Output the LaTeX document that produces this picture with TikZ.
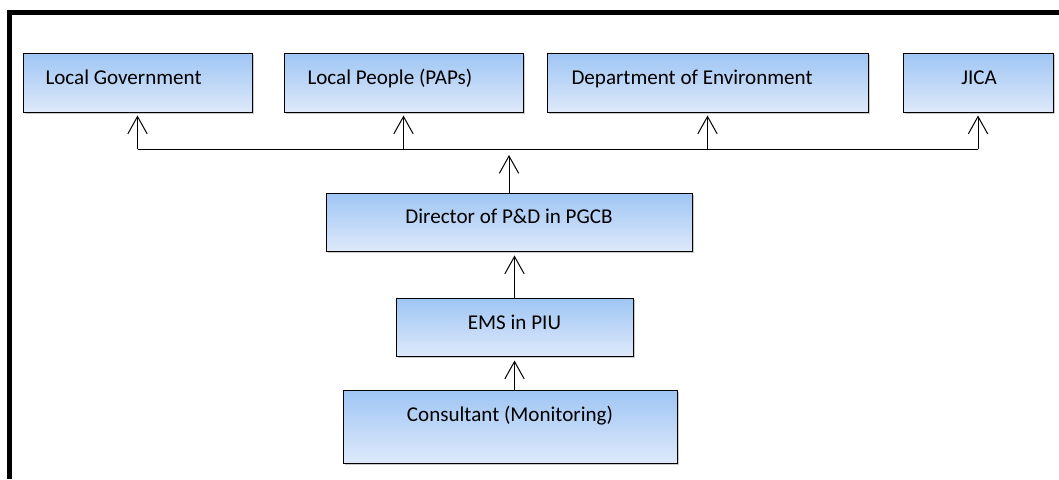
\documentclass[tikz,border=0pt]{standalone}
\usepackage{fontspec}
\setmainfont{Carlito}
\usetikzlibrary{arrows.meta,shadows}

\definecolor{boxtop}{RGB}{158,197,244}
\definecolor{boxbot}{RGB}{222,233,250}

\tikzset{every picture/.style={line width=0.75pt}}
\tikzset{
  orgbox/.style={draw=black, line width=0.75pt, top color=boxtop, bottom color=boxbot,
    inner sep=0pt, anchor=center,
    drop shadow={shadow xshift=1.2pt, shadow yshift=-1.2pt, fill=black!35, opacity=0.6}},
  orgtext/.style={inner sep=0.75pt, font=\fontsize{15.8}{19}\selectfont},
  upline/.style={-{Straight Barb[length=13pt,width=14.5pt,line width=0.75pt]}, line width=0.75pt}
}

\begin{document}
\begin{tikzpicture}[x=0.75pt,y=0.75pt,yscale=-1,xscale=1]
\useasboundingbox (0,0) rectangle (1059,479);

%Frame
\draw [line width=3.75pt] (9.5,479) -- (9.5,12.5) -- (1059,12.5) ;

%Top row boxes
\node [orgbox, minimum width=229*0.75pt, minimum height=59*0.75pt] (lg) at (137.5,82.5) {};
\node [orgbox, minimum width=239*0.75pt, minimum height=59*0.75pt] (lp) at (403.5,82.5) {};
\node [orgbox, minimum width=321*0.75pt, minimum height=59*0.75pt] (doe) at (707.5,82.5) {};
\node [orgbox, minimum width=150*0.75pt, minimum height=59*0.75pt] (jica) at (978,82.5) {};

%Lower boxes
\node [orgbox, minimum width=366*0.75pt, minimum height=58*0.75pt] (dir) at (509,222) {};
\node [orgbox, minimum width=237*0.75pt, minimum height=58*0.75pt] (ems) at (514.5,327) {};
\node [orgbox, minimum width=334*0.75pt, minimum height=73*0.75pt] (cons) at (510,426.5) {};

% Text Node
\node [orgtext, anchor=base west] (lgtxt) at (44,84.5) {Local Government};
% Text Node
\node [orgtext, anchor=base west] (lptxt) at (306,84.5) {Local People (PAPs)};
% Text Node
\node [orgtext, anchor=base west] (doetxt) at (570,84.5) {Department of Environment};
% Text Node
\node [orgtext, anchor=base] (jicatxt) at (979,84.5) {JICA};
% Text Node
\node [orgtext, anchor=base] (dirtxt) at (509,223.5) {Director of P\&D in PGCB};
% Text Node
\node [orgtext, anchor=base] (emstxt) at (514.5,329) {EMS in PIU};
% Text Node
\node [orgtext, anchor=base] (constxt) at (510,421.5) {Consultant (Monitoring)};

%Bus line
\coordinate (busL) at (137.5,149);
\coordinate (busR) at (978,149);
\draw (busL) -- (busR) ;

%Straight Lines
\draw [upline, shorten >=2.25pt] (busL) -- (lg.south) ;
\draw [upline, shorten >=2.25pt] (lp.south |- busL) -- (lp.south) ;
\draw [upline, shorten >=2.25pt] (doe.south |- busL) -- (doe.south) ;
\draw [upline, shorten >=2.25pt] (busR) -- (jica.south) ;
\draw [upline, shorten >=4.5pt] (dir.north) -- (dir.north |- busL) ;
\draw [upline, shorten >=3pt] (ems.north) -- (ems.north |- dir.south) ;
\draw [upline, shorten >=3pt] (ems.south |- cons.north) -- (ems.south) ;

\end{tikzpicture}
\end{document}
